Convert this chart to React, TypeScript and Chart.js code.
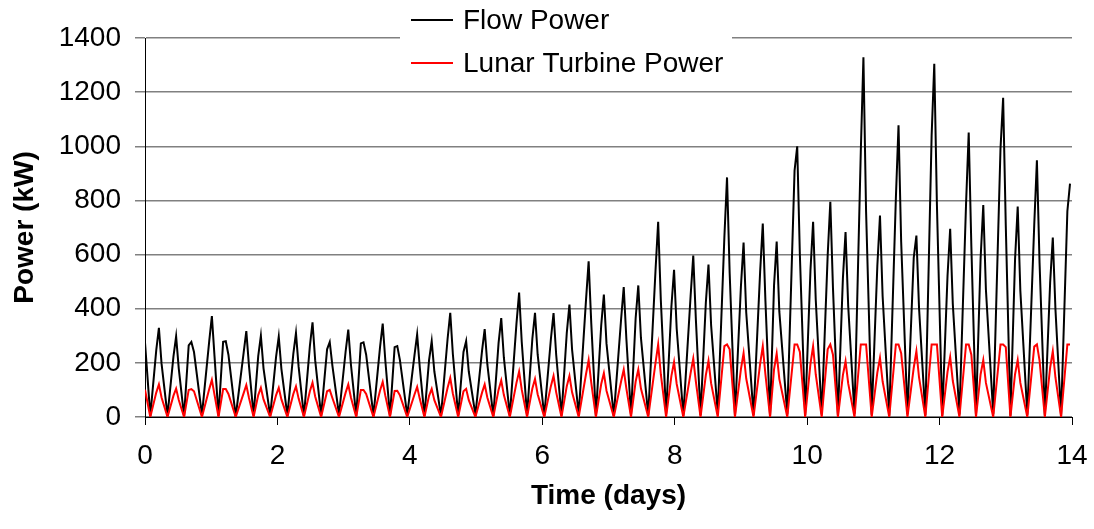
import React, { useEffect, useRef } from 'react';
import { Chart, registerables } from 'chart.js';

Chart.register(...registerables);

// ---- Data (days / kW) ----
const startDay = 0;
const startFlow = 275;
const startTurbine = 101;

const troughDays = [0.08, 0.34, 0.59, 0.86, 1.11, 1.37, 1.64, 1.89, 2.15, 2.40, 2.66, 2.93, 3.19, 3.45, 3.70, 3.96, 4.22, 4.47, 4.73, 4.99, 5.26, 5.51, 5.77, 6.03, 6.29, 6.55, 6.81, 7.08, 7.34, 7.60, 7.87, 8.13, 8.39, 8.65, 8.91, 9.19, 9.44, 9.70, 9.97, 10.22, 10.465, 10.715, 10.975, 11.24, 11.515, 11.785, 12.04, 12.30, 12.55, 12.81, 13.07, 13.325, 13.59, 13.835];
const shoulderDays = [0.17, 0.43, 0.66, 0.97, 1.18, 1.49, 1.71, 1.98, 2.24, 2.49, 2.75, 3.03, 3.26, 3.55, 3.77, 4.07, 4.29, 4.57, 4.81, 5.09, 5.34, 5.61, 5.85, 6.13, 6.37, 6.66, 6.89, 7.19, 7.41, 7.71, 7.95, 8.24, 8.47, 8.75, 9.00, 9.29, 9.50, 9.81, 10.05, 10.31, 10.54, 10.81, 11.06, 11.34, 11.61, 11.88, 12.12, 12.40, 12.62, 12.92, 13.14, 13.43, 13.67, 13.93];
const peakDays = [0.21, 0.47, 0.70, 1.01, 1.22, 1.53, 1.75, 2.02, 2.28, 2.53, 2.79, 3.07, 3.30, 3.59, 3.81, 4.11, 4.33, 4.61, 4.85, 5.13, 5.38, 5.65, 5.89, 6.17, 6.41, 6.70, 6.93, 7.23, 7.45, 7.75, 7.99, 8.28, 8.51, 8.79, 9.04, 9.33, 9.54, 9.85, 10.09, 10.35, 10.58, 10.85, 11.10, 11.38, 11.65, 11.92, 12.16, 12.44, 12.66, 12.96, 13.18, 13.47, 13.71, 13.97];
const fallDays = [0.25, 0.51, 0.74, 1.05, 1.26, 1.57, 1.79, 2.06, 2.32, 2.57, 2.83, 3.11, 3.34, 3.63, 3.85, 4.15, 4.37, 4.65, 4.89, 5.17, 5.42, 5.69, 5.93, 6.21, 6.45, 6.74, 6.97, 7.27, 7.49, 7.79, 8.03, 8.32, 8.55, 8.83, 9.08, 9.37, 9.58, 9.89, 10.13, 10.39, 10.62, 10.89, 11.14, 11.42, 11.69, 11.96, 12.20, 12.48, 12.70, 13.00, 13.22, 13.51, 13.75, null];

const flowTrough = [4, 6, 3, 8, 5, 2, 7, 4, 6, 3, 5, 8, 4, 6, 3, 7, 5, 4, 6, 8, 3, 5, 7, 4, 6, 9, 5, 4, 8, 6, 10, 5, 7, 12, 6, 8, 5, 10, 7, 9, 6, 12, 8, 5, 10, 7, 6, 9, 8, 11, 5, 8, 6, 4];
const flowShoulder = [247, 224, 265, 280, 278, 238, 225, 223, 233, 262, 250, 242, 272, 259, 258, 229, 210, 289, 240, 244, 274, 345, 289, 288, 311, 431, 339, 360, 365, 541, 408, 447, 422, 664, 483, 536, 486, 910, 541, 596, 512, 978, 558, 808, 589, 1039, 521, 788, 587, 990, 583, 711, 497, 760];
const flowPeak = [329, 298, 277, 373, 280, 317, 300, 297, 310, 350, 277, 323, 276, 345, 262, 305, 280, 385, 280, 325, 365, 460, 385, 384, 415, 575, 452, 480, 486, 721, 544, 596, 563, 885, 644, 715, 648, 1000, 721, 795, 683, 1329, 744, 1078, 670, 1305, 695, 1051, 783, 1179, 777, 948, 663, 862];
const flowFall = [197, 179, 240, 224, 230, 190, 180, 178, 186, 210, 190, 194, 230, 207, 210, 183, 168, 231, 168, 195, 219, 276, 231, 230, 249, 345, 271, 288, 292, 433, 326, 358, 338, 531, 386, 429, 389, 600, 433, 477, 410, 760, 446, 647, 402, 783, 417, 631, 470, 707, 466, 569, 398, null];

const turbineShoulder = [90, 79, 100, 103, 103, 88, 81, 81, 85, 95, 95, 90, 100, 98, 96, 83, 78, 108, 95, 90, 101, 126, 105, 114, 114, 158, 122, 131, 131, 200, 152, 162, 155, 262, 177, 196, 176, 268, 196, 250, 155, 268, 164, 268, 182, 268, 167, 268, 158, 268, 158, 260, 182, 268];
const turbinePeak = [120, 105, 103, 137, 103, 118, 108, 108, 113, 127, 100, 120, 100, 130, 97, 111, 104, 144, 104, 120, 135, 168, 140, 152, 152, 210, 162, 175, 175, 268, 203, 216, 207, 268, 236, 261, 234, 268, 261, 268, 206, 268, 218, 268, 243, 268, 222, 268, 210, 268, 210, 268, 243, 268];
const turbineFall = [72, 63, 95, 82, 85, 71, 65, 65, 68, 76, 70, 72, 85, 78, 80, 67, 62, 86, 62, 72, 81, 101, 84, 91, 91, 126, 97, 105, 105, 158, 122, 130, 124, 250, 142, 157, 140, 240, 157, 230, 124, 268, 131, 236, 146, 268, 133, 230, 126, 258, 126, 208, 146, null];

const seriesLabels = ['Flow Power', 'Lunar Turbine Power'];
const xTickStep = 2;
const yTickStep = 200;

function buildSeries(start: number, trough: number[] | null, shoulder: number[], peak: number[], fall: (number | null)[]) {
  const pts: { x: number; y: number }[] = [{ x: startDay, y: start }];
  for (let i = 0; i < peakDays.length; i++) {
    pts.push({ x: troughDays[i], y: trough ? trough[i] : 0 });
    pts.push({ x: shoulderDays[i], y: shoulder[i] });
    pts.push({ x: peakDays[i], y: peak[i] });
    const fd = fallDays[i];
    const fv = fall[i];
    if (fd !== null && fv !== null) pts.push({ x: fd, y: fv as number });
  }
  return pts;
}

const FONT = 'Liberation Sans, Arial, Helvetica, sans-serif';

const legendPlugin = {
  id: 'boxLegend',
  afterDraw(chart: any) {
    const ctx = chart.ctx as CanvasRenderingContext2D;
    ctx.save();
    ctx.fillStyle = '#ffffff';
    ctx.fillRect(400, 0, 332, 80);
    const rows = [20, 63];
    chart.data.datasets.forEach((ds: any, i: number) => {
      const y = rows[i];
      ctx.strokeStyle = ds.borderColor;
      ctx.lineWidth = 2;
      ctx.beginPath();
      ctx.moveTo(411, y);
      ctx.lineTo(453, y);
      ctx.stroke();
      ctx.fillStyle = '#000';
      ctx.font = `28px ${FONT}`;
      ctx.textBaseline = 'middle';
      ctx.textAlign = 'left';
      ctx.fillText(ds.label, 463, y + 1);
    });
    ctx.restore();
  },
};

export default function App() {
  const ref = useRef<HTMLCanvasElement | null>(null);
  useEffect(() => {
    if (!ref.current) return;
    const chart = new Chart(ref.current, {
      type: 'line',
      data: {
        datasets: [
          {
            label: seriesLabels[0],
            data: buildSeries(startFlow, flowTrough, flowShoulder, flowPeak, flowFall),
            borderColor: '#000000',
            borderWidth: 2,
            pointRadius: 0,
            tension: 0,
            fill: false,
            order: 1,
          },
          {
            label: seriesLabels[1],
            data: buildSeries(startTurbine, null, turbineShoulder, turbinePeak, turbineFall),
            borderColor: '#ff0000',
            borderWidth: 2,
            pointRadius: 0,
            tension: 0,
            fill: false,
            order: 0,
          },
        ],
      },
      options: {
        animation: false,
        responsive: false,
        devicePixelRatio: 1,
        parsing: false,
        layout: { padding: { top: 38, right: 22, left: 0, bottom: 0 } },
        plugins: {
          legend: { display: false },
          tooltip: { enabled: false },
        },
        scales: {
          x: {
            type: 'linear',
            min: 0,
            max: 14,
            ticks: {
              stepSize: xTickStep,
              color: '#000',
              font: { family: FONT, size: 28 },
              padding: 14,
              maxRotation: 0,
              callback: (v: any) => String(v),
            },
            grid: { drawOnChartArea: false, drawTicks: true, tickLength: 8, color: '#000', lineWidth: 1 },
            border: { color: '#000', width: 1 },
            title: {
              display: true,
              text: 'Time (days)',
              color: '#000',
              font: { family: FONT, size: 28, weight: 'bold' },
              padding: { top: 0, bottom: 16 },
            },
            afterFit: (s: any) => {
              s.height = 112;
              s.paddingLeft = 0;
              s.paddingRight = 0;
            },
          },
          y: {
            type: 'linear',
            min: 0,
            max: 1400,
            ticks: {
              stepSize: yTickStep,
              color: '#000',
              font: { family: FONT, size: 28 },
              padding: 14,
              callback: (v: any) => String(v),
            },
            grid: { color: '#808080', lineWidth: 1.5, tickLength: 10 },
            border: { color: '#000', width: 1 },
            title: {
              display: true,
              text: 'Power (kW)',
              color: '#000',
              font: { family: FONT, size: 28, weight: 'bold' },
              padding: { top: 8, bottom: 0 },
            },
            afterFit: (s: any) => {
              s.width = 145;
              s.paddingTop = 0;
              s.paddingBottom = 0;
            },
          },
        },
      },
      plugins: [legendPlugin],
    });
    return () => chart.destroy();
  }, []);
  return (
    <div style={{ position: 'fixed', left: 0, top: 0, width: 1094, height: 529, background: '#fff' }}>
      <canvas ref={ref} width={1094} height={529} />
    </div>
  );
}
